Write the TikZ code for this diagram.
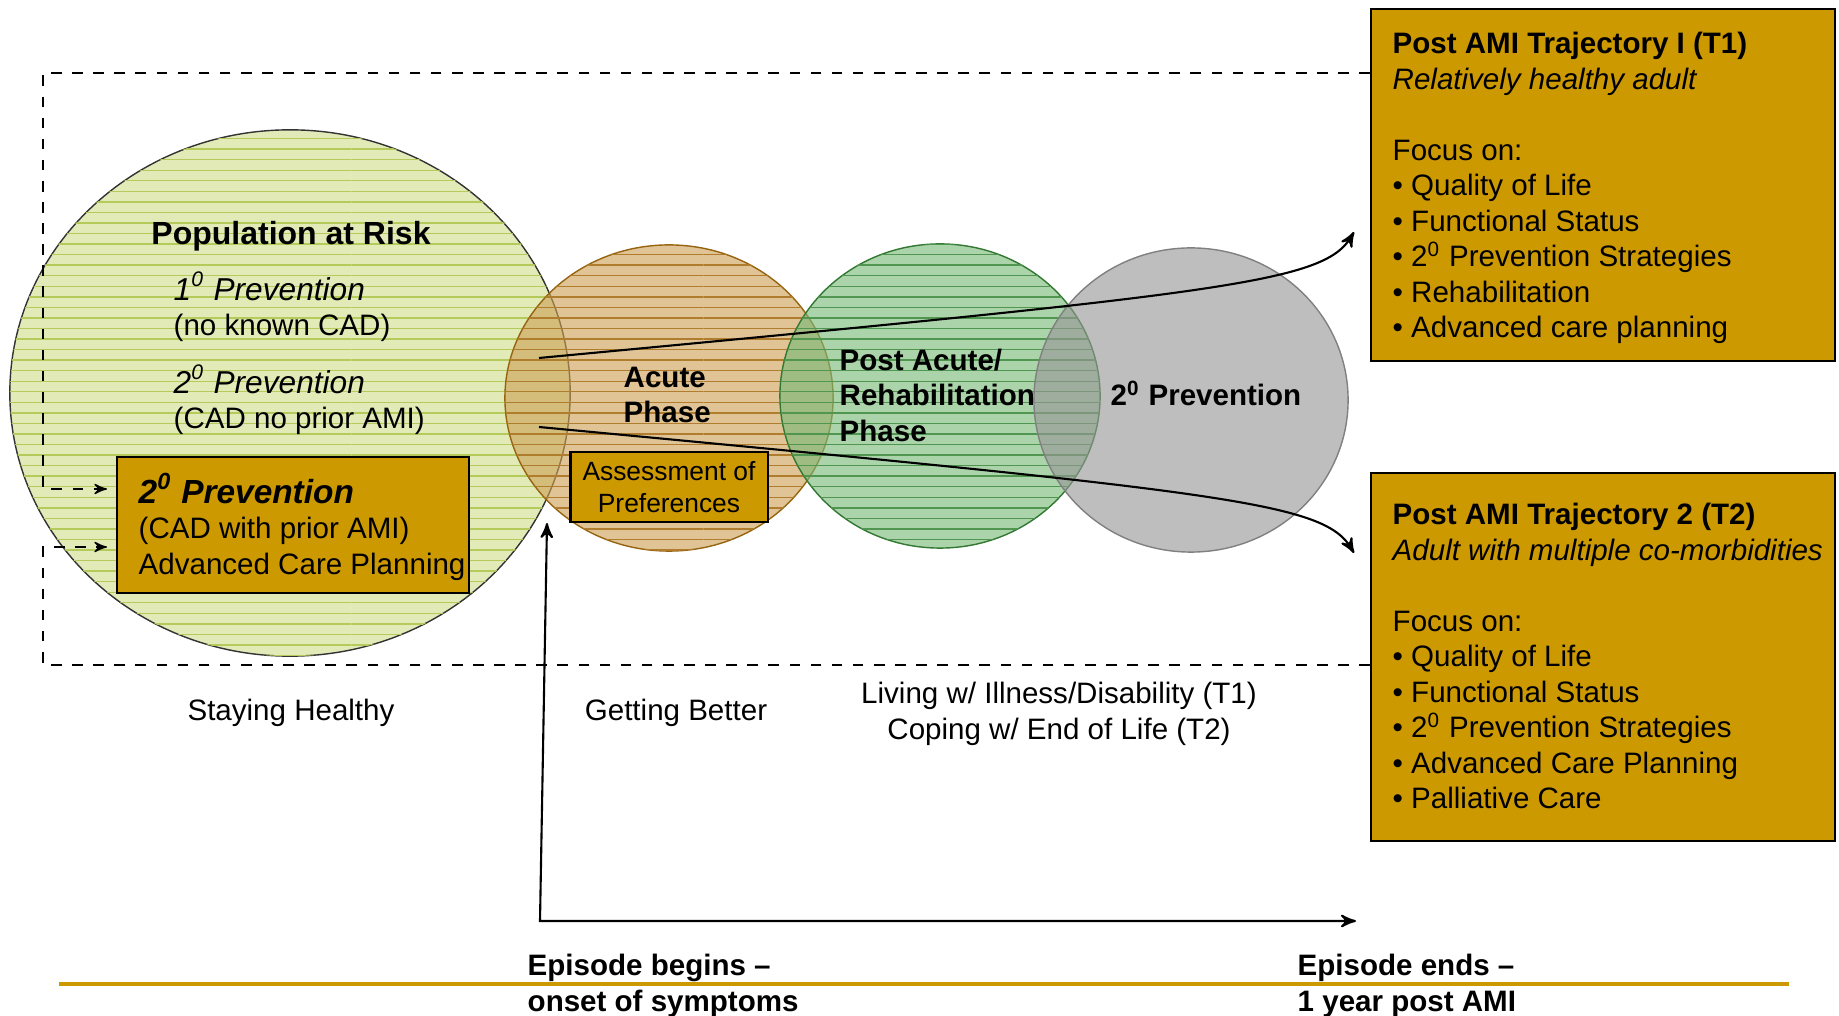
\documentclass[tikz,border=0pt]{standalone}
\usepackage{fontspec}
\setmainfont{Liberation Sans}
\usetikzlibrary{shapes,arrows,patterns}

\definecolor{gold}{RGB}{204,153,0}
\definecolor{popfill}{RGB}{208,222,140}
\definecolor{popline}{RGB}{180,202,90}
\definecolor{acutefill}{RGB}{205,160,85}
\definecolor{acuteline}{RGB}{150,100,15}
\definecolor{acutestripe}{RGB}{175,125,45}
\definecolor{rehabfill}{RGB}{120,185,120}
\definecolor{rehabline}{RGB}{50,120,50}
\definecolor{rehabstripe}{RGB}{80,150,80}
\definecolor{prevfill}{RGB}{150,150,150}

\tikzset{
  phase/.style={ellipse, draw, inner sep=0pt, fill opacity=.62},
  goldbox/.style={rectangle, draw=black, semithick, fill=gold, inner sep=0pt},
  txt/.style={font=\fontsize{8.4}{10.1}\selectfont, inner sep=0pt, align=left},
  hdr/.style={font=\fontsize{8.4}{10.1}\selectfont\bfseries, inner sep=0pt, align=left},
}

\begin{document}
\begin{tikzpicture}[>=stealth',x=0.01cm,y=-0.01cm]
  \useasboundingbox (0,0) rectangle (1839,1016);

  % phases
  \node[phase, draw=black!80, fill=popfill, postaction={pattern=horizontal lines, pattern color=popline}, minimum width=5.6cm, minimum height=5.26cm] (pop) at (290,393) {};
  \node[phase, draw=acuteline, fill=acutefill, postaction={pattern=horizontal lines, pattern color=acutestripe}, minimum width=3.28cm, minimum height=3.06cm] (acute) at (669,398) {};
  \node[phase, draw=rehabline, fill=rehabfill, postaction={pattern=horizontal lines, pattern color=rehabstripe}, minimum width=3.2cm, minimum height=3.04cm] (rehab) at (940,396) {};
  \node[phase, draw=black!50, fill=prevfill, minimum width=3.14cm, minimum height=3.04cm] (prev) at (1191,400) {};

  \node[hdr, anchor=center, font=\fontsize{9.1}{10.1}\selectfont\bfseries] (poptitle) at (291,236) {Population at Risk};
  \node[txt, anchor=west] (prim) at (173,307) {{\fontsize{9}{10.1}\selectfont\itshape 1\textsuperscript{0} Prevention}\\(no known CAD)};
  \node[txt, anchor=west] (sec) at (173,400) {{\fontsize{9}{10.1}\selectfont\itshape 2\textsuperscript{0} Prevention}\\(CAD no prior AMI)};

  \node[goldbox, minimum width=3.52cm, minimum height=1.36cm] (amibox) at (293,525) {};
  \node[txt, anchor=west] (amitxt) at (138,527) {{\fontsize{9.5}{10.1}\selectfont\bfseries\itshape 2\textsuperscript{0} Prevention}\\(CAD with prior AMI)\\Advanced Care Planning};

  \node[hdr, anchor=west] (acutetxt) at (623,395) {Acute\\Phase};
  \node[hdr, anchor=west] (rehabtxt) at (839,395) {Post Acute/\\Rehabilitation\\Phase};
  \node[hdr] (prevtxt) at (1206,393) {2\textsuperscript{0} Prevention};
  \node[goldbox, font=\fontsize{7.5}{9.1}\selectfont, align=center, minimum width=1.97cm, minimum height=0.70cm] (assess) at (669,487) {Assessment of\\Preferences};

  % trajectories
  \node[goldbox, minimum width=4.64cm, minimum height=3.52cm] (t1) at (1603,185) {};
  \node[txt, anchor=west] (t1txt) at (1392,188) {\textbf{Post AMI Trajectory I (T1)}\\\textit{Relatively healthy adult}\\[10.1pt]Focus on:\\\textbullet{} Quality of Life\\\textbullet{} Functional Status\\\textbullet{} 2\textsuperscript{0} Prevention Strategies\\\textbullet{} Rehabilitation\\\textbullet{} Advanced care planning};
  \node[goldbox, minimum width=4.64cm, minimum height=3.67cm] (t2) at (1603,657) {};
  \node[txt, anchor=west] (t2txt) at (1392,656) {\textbf{Post AMI Trajectory 2 (T2)}\\\textit{Adult with multiple co-morbidities}\\[10.1pt]Focus on:\\\textbullet{} Quality of Life\\\textbullet{} Functional Status\\\textbullet{} 2\textsuperscript{0} Prevention Strategies\\\textbullet{} Advanced Care Planning\\\textbullet{} Palliative Care};

  \node[txt, align=center] (stay) at (291,713) {Staying Healthy};
  \node[txt, align=center] (better) at (676,713) {Getting Better};
  \node[txt, align=center] (living) at (1059,714) {Living w/ Illness/Disability (T1)\\Coping w/ End of Life (T2)};
  \node[hdr, anchor=west] (epibeg) at (527,986) {Episode begins –\\onset of symptoms};
  \node[hdr, anchor=west] (epifin) at (1297,986) {Episode ends –\\1 year post AMI};

  \coordinate (t1from) at (539,358);
  \coordinate (t1to) at (1354,232);
  \coordinate (t2from) at (539,427);
  \coordinate (t2to) at (1354,553);
  \coordinate (epitop) at (547,523);
  \coordinate (epicorner) at (540,921);
  \coordinate (epiright) at (1356,921);
  \coordinate (dashtop) at (43,73);
  \coordinate (dashbot) at (43,665);
  \coordinate (in1) at (107,489);
  \coordinate (in2) at (107,547);
  \coordinate (rulel) at (59,984);
  \coordinate (ruler) at (1789,984);

  \draw[dashed, ->] (t1.west |- dashtop) -- (dashtop) -- (dashtop |- in1) -- (in1);
  \draw[dashed, ->] (t2.west |- dashbot) -- (dashbot) -- (dashbot |- in2) -- (in2);

  \draw[semithick, ->] (t1from) .. controls (1240,292) and (1325,282) .. (t1to);
  \draw[semithick, ->] (t2from) .. controls (1240,493) and (1325,503) .. (t2to);
  \draw[semithick, <->] (epitop) -- (epicorner) -- (epiright);

  \draw[gold, line width=1.2pt] (rulel) -- (ruler);
\end{tikzpicture}
\end{document}
